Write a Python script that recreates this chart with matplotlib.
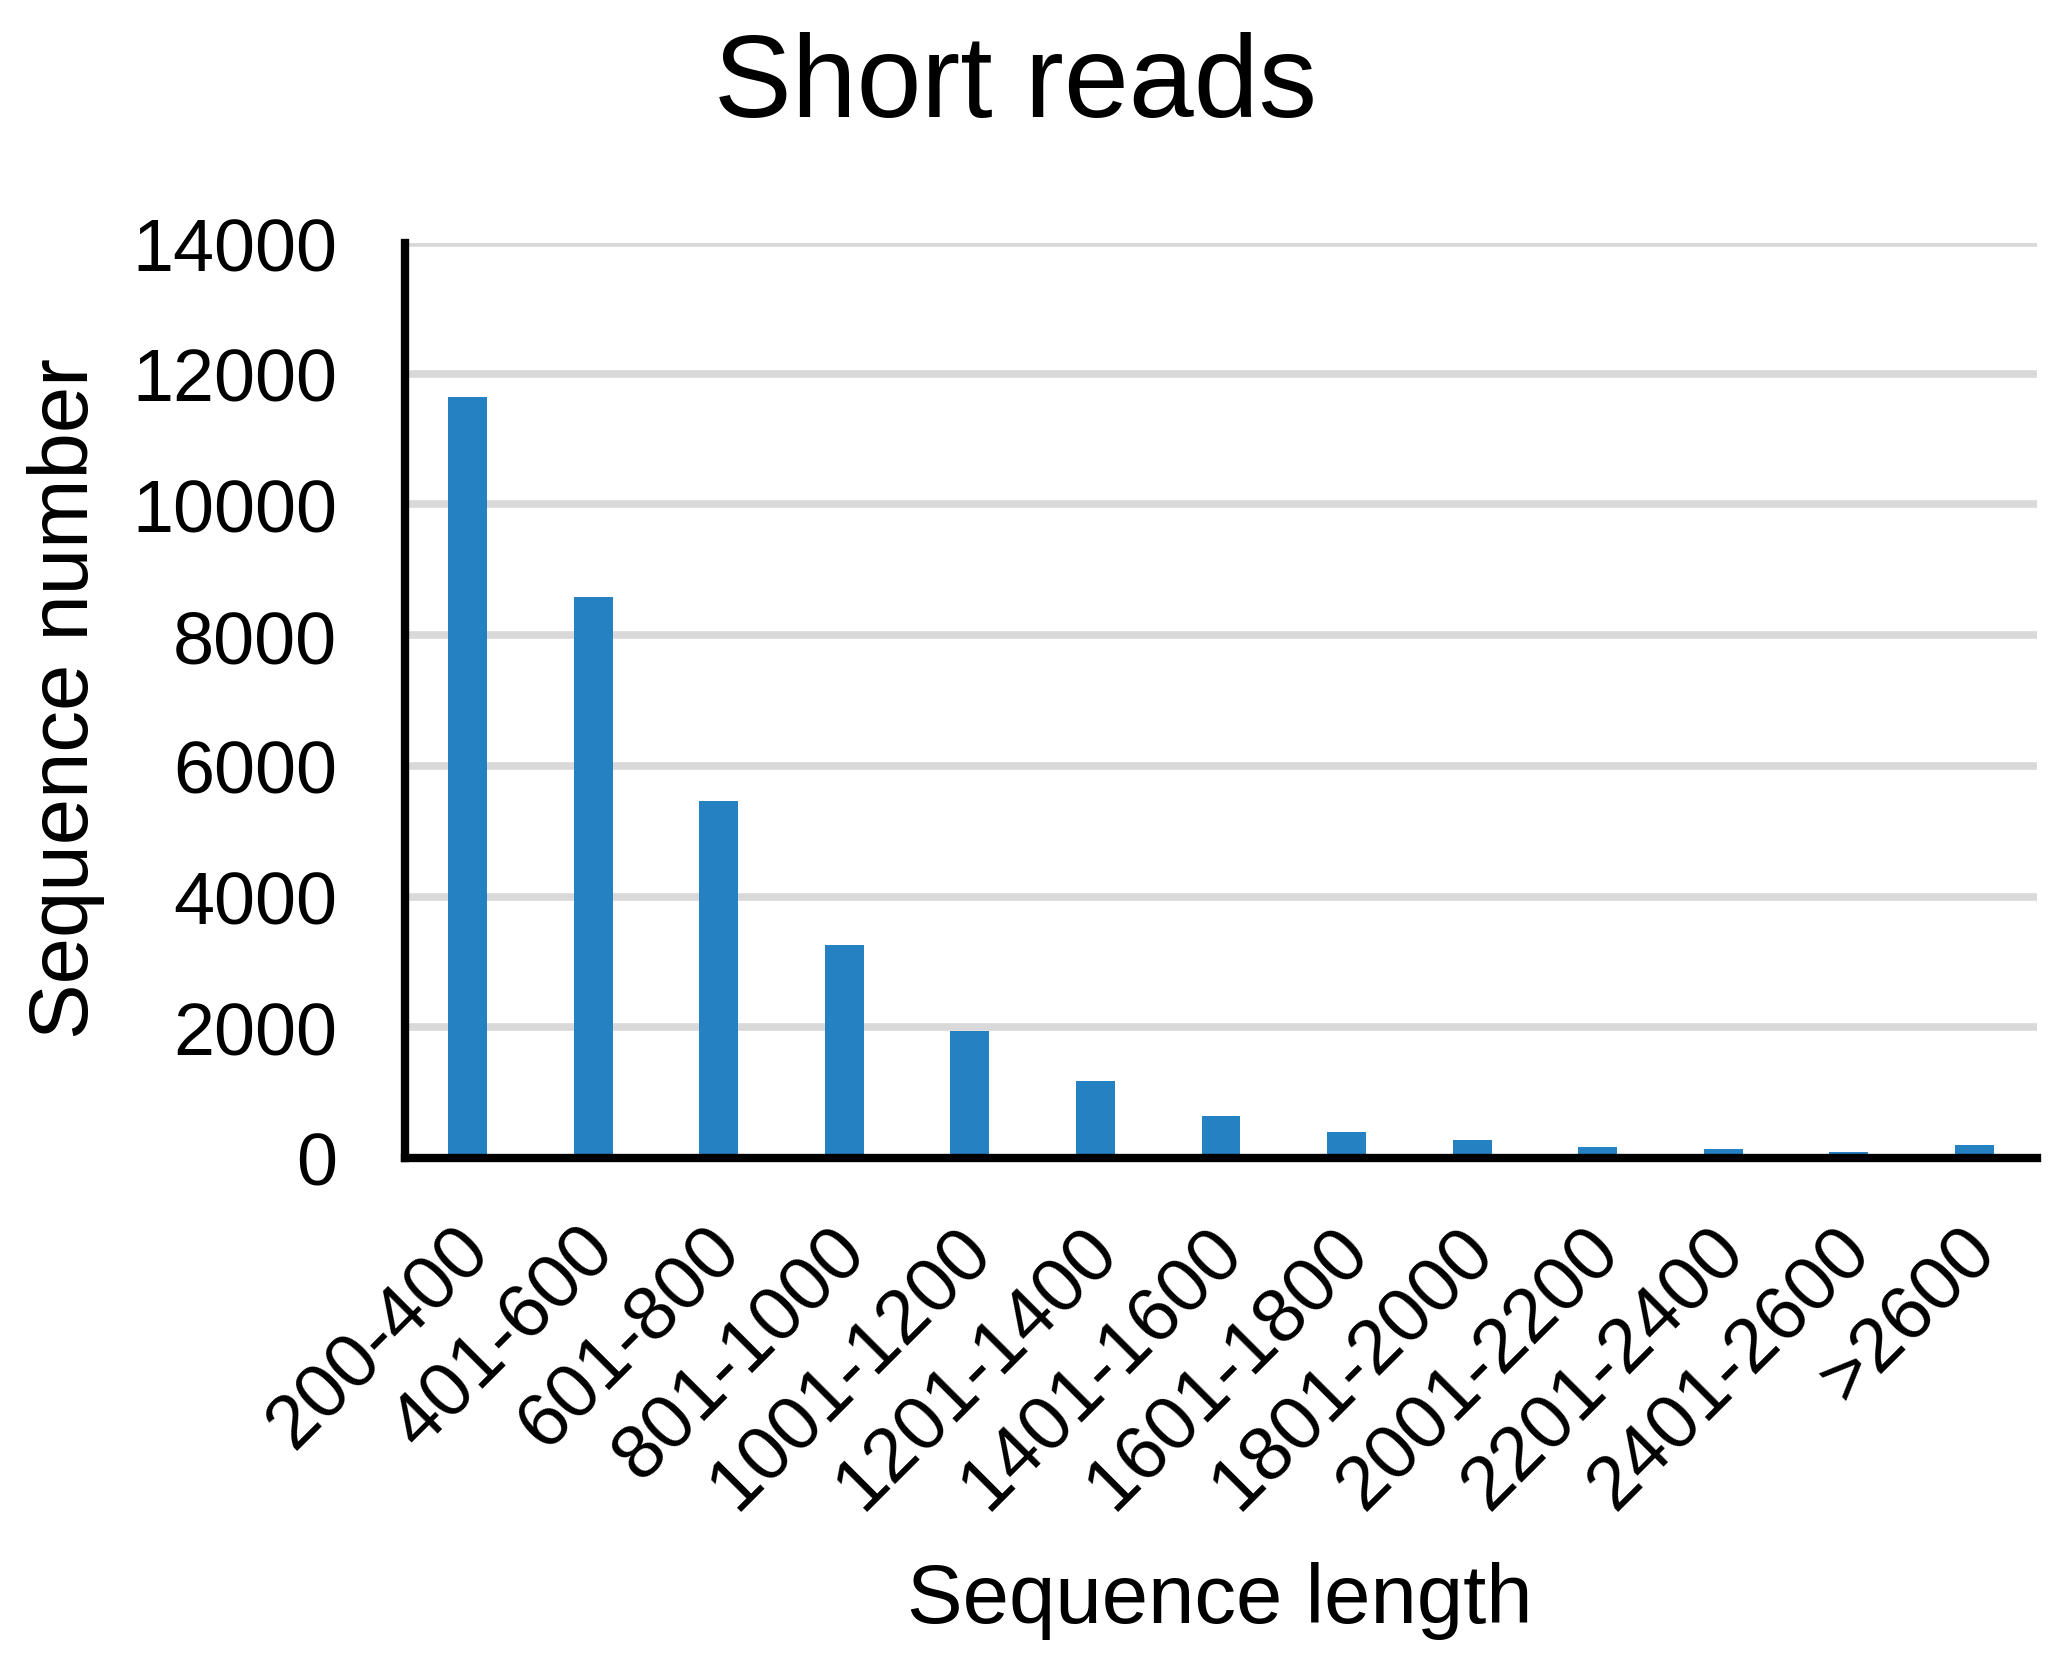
import matplotlib.pyplot as plt
from matplotlib.transforms import ScaledTranslation

plt.rcParams['font.family'] = ['Liberation Sans', 'DejaVu Sans']

# sequence length bins and counts
categories = ['200-400', '401-600', '601-800', '801-1000', '1001-1200', '1201-1400',
              '1401-1600', '1601-1800', '1801-2000', '2001-2200', '2201-2400',
              '2401-2600', '>2600']
counts = [11640, 8585, 5455, 3255, 1940, 1180, 640, 400, 275, 170, 140, 95, 200]
yticks = [0, 2000, 4000, 6000, 8000, 10000, 12000, 14000]

fig = plt.figure(figsize=(20.67, 16.65), dpi=100)
ax = fig.add_axes([405/2067, 1 - 1159/1665, (2037-405)/2067, (1159-244)/1665])

x = list(range(len(categories)))
ax.bar(x, counts, width=0.31, color='#2581C1', zorder=3)

ax.set_xlim(-0.5, len(categories) - 0.5)
ax.set_ylim(0, 14000)
ax.set_yticks(yticks)
ax.set_yticklabels([str(v) for v in yticks], fontsize=53)
ax.set_xticks(x)
ax.set_xticklabels(categories, fontsize=55, rotation=45, ha='right',
                   rotation_mode='anchor')
ax.tick_params(axis='both', length=0)
ax.tick_params(axis='y', pad=49)
ax.tick_params(axis='x', pad=40)
shift = ScaledTranslation(-15/100, 0, fig.dpi_scale_trans)
for lbl in ax.get_xticklabels():
    lbl.set_transform(lbl.get_transform() + shift)

ax.grid(axis='y', color='#D9D9D9', linewidth=5.5, zorder=0)
ax.set_axisbelow(True)
for s in ['top', 'right']:
    ax.spines[s].set_visible(False)
for s in ['left', 'bottom']:
    ax.spines[s].set_color('black')
    ax.spines[s].set_linewidth(6)
    ax.spines[s].set_zorder(4)

ax.set_xlabel('Sequence length', fontsize=60)
ax.xaxis.set_label_coords(0.499, -0.44)
ax.set_ylabel('Sequence number', fontsize=60)
ax.yaxis.set_label_coords(-0.184, 0.503)

fig.text(1015/2067, 1 - 86/1665, 'Short reads', fontsize=84, ha='center', va='center')

fig.savefig('out.png', dpi=100)
